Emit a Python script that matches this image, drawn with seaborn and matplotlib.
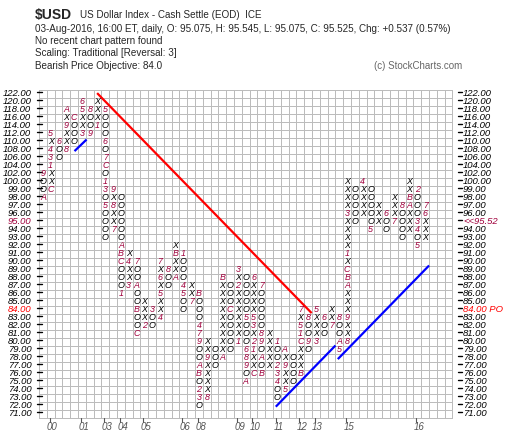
import numpy as np
import pandas as pd
import seaborn as sns
import matplotlib.pyplot as plt

sns.set_style("white")
plt.rcParams['font.family'] = ['Liberation Sans', 'DejaVu Sans']

# price boxes of the point & figure grid, top to bottom
price_levels = [122, 120, 118, 116, 114, 112, 110, 108, 106, 104, 102, 100,
                99, 98, 97, 96, 95, 94, 93, 92, 91, 90, 89, 88, 87, 86, 85,
                84, 83, 82, 81, 80, 79, 78, 77, 76, 75, 74, 73, 72, 71]

# each column: highest box, then the boxes going down (X, O or month marker)
col_tops = [102, 112, 110, 118, 116, 120, 118, 120, 118, 99,
            98, 91, 90, 85, 84, 90, 89, 92, 91, 87,
            86, 80, 79, 88, 87, 89, 88, 88, 87, 81,
            80, 79, 78, 84, 83, 84, 83, 84, 83, 100,
            99, 100, 99, 97, 96, 98, 97, 100, 99, 97]
col_boxes = ["9OOA", "5X431XXC", "6OO", "AX9XX8", "COOO", "65XX3", "8OO9", "XXX1",
             "5OOO6O7CO13O5OOOO", "9X8XX7", "OOOOOOABCOOO1", "X4XX3", "7OOAOOBOOC",
             "XXX2", "3OO", "7X6X5XX4", "8OO", "XBXXA", "1OOO45OO", "XX7",
             "BOOO479OOABO23O", "XX9XXXX8", "OOO", "BXXXXXXXXXA", "OOOCOOOOO",
             "3X2XXXXXX1", "OOOOO5OOO689OA", "6XXXX53X21XXC", "7OOOOO89OAOB", "XXXXX",
             "1OO234OO", "AX9XX5", "OOOO", "7X51CXXXB", "8OO9O", "5XXX3", "6OO", "XX7",
             "8OOA5", "XXXX3XXXX1XCBAXXX9XX8", "OOOOO", "4XXXX", "OOOOO5", "XXX", "6OO",
             "XXX7", "8OOOO", "XXBAXXX", "2OOO34O5", "76XXX"]
n_cols = 53

# year labels on the x axis (column number where the year starts)
year_labels = ["00", "01", "03", "04", "05", "06", "08", "09", "10", "11", "12", "13", "15", "16"]
year_cols = [2, 6, 9, 11, 14, 19, 21, 26, 28, 31, 34, 36, 40, 49]

# trend lines in box units: (x0, y0, x1, y1, colour)
trend_lines = [(7.45, 0.45, 34.95, 27.95, "#ff0000"),
               (4.55, 7.7, 6.1, 6.25, "#0000ff"),
               (30.35, 39.65, 38.0, 32.0, "#0000ff"),
               (38.3, 33.7, 50.0, 22.0, "#0000ff")]

right_special = {95: ("<<95.52", "#a0003c"), 84: ("84.00 PO", "#ff0000")}
left_special = {95: "#a0003c", 84: "#ff0000"}
month_color = "#a0003c"

# build the label grid
grid = np.full((len(price_levels), n_cols), "", dtype=object)
for c, (top, boxes) in enumerate(zip(col_tops, col_boxes)):
    r0 = price_levels.index(top)
    for k, ch in enumerate(boxes):
        grid[r0 + k, c] = ch
cells = pd.DataFrame(np.zeros(grid.shape), index=price_levels)

W, H = 520, 442
fig = plt.figure(figsize=(W / 100, H / 100), dpi=100)
ax = fig.add_axes([39 / W, 1 - 417.5 / H, 413.5 / W, 328 / H])

sns.heatmap(cells, annot=grid, fmt="", cmap=["white"], vmin=0, vmax=1, cbar=False,
            linewidths=0.7, linecolor="#bcbcbc", xticklabels=False, yticklabels=False,
            annot_kws={"fontsize": 6.4, "style": "italic"}, ax=ax)
ax.collections[0].set_clip_on(False)
for t in ax.texts:
    s = t.get_text()
    t.set_color("black" if s in ("X", "O") else month_color)
for sp in ax.spines.values():
    sp.set_visible(False)
ax.set_xlabel("")
ax.set_ylabel("")

# axis labels both sides
for i, v in enumerate(price_levels):
    ax.text(-1.0, i + 0.55, f"{v:.2f}", ha="right", va="center", fontsize=6.8,
            style="italic", color=left_special.get(v, "black"), clip_on=False)
    lab, col = right_special.get(v, (f"{v:.2f}", "black"))
    ax.text(54.35, i + 0.55, lab, ha="left", va="center", fontsize=6.8,
            style="italic", color=col, clip_on=False)
    ax.plot([-0.2, 0.35], [i + 0.25] * 2, color="black", lw=1, clip_on=False)
    ax.plot([53.7, 54.2], [i + 0.25] * 2, color="black", lw=1, clip_on=False)

for lab, c in zip(year_labels, year_cols):
    x = c - 0.5
    ax.plot([x - 0.15] * 2, [41.05, 41.5], color="#555555", lw=0.8, clip_on=False)
    ax.text(x + 0.2, 42.15, lab, ha="center", va="center", fontsize=7,
            style="italic", color="#555555", clip_on=False)

for x0, y0, x1, y1, col in trend_lines:
    ax.plot([x0, x1], [y0, y1], color=col, lw=1.6, solid_capstyle="butt", clip_on=False)

# header
def px(x, y):
    return x / W, 1 - y / H

fig.text(*px(35, 15), "$USD", fontsize=10, fontweight="bold", va="center")
fig.text(*px(80, 15), "US Dollar Index - Cash Settle (EOD)  ICE", fontsize=7.1, va="center")
header_lines = ["03-Aug-2016, 16:00 ET, daily, O: 95.075, H: 95.545, L: 95.075, C: 95.525, Chg: +0.537 (0.57%)",
                "No recent chart pattern found",
                "Scaling: Traditional [Reversal: 3]",
                "Bearish Price Objective: 84.0"]
for yy, line in zip([28.5, 41, 53.5, 66], header_lines):
    fig.text(*px(35, yy), line, fontsize=7.1, va="center")
fig.text(*px(462, 66), "(c) StockCharts.com", fontsize=7, va="center", ha="right", color="#666666")

fig.savefig("out.png", dpi=100)
